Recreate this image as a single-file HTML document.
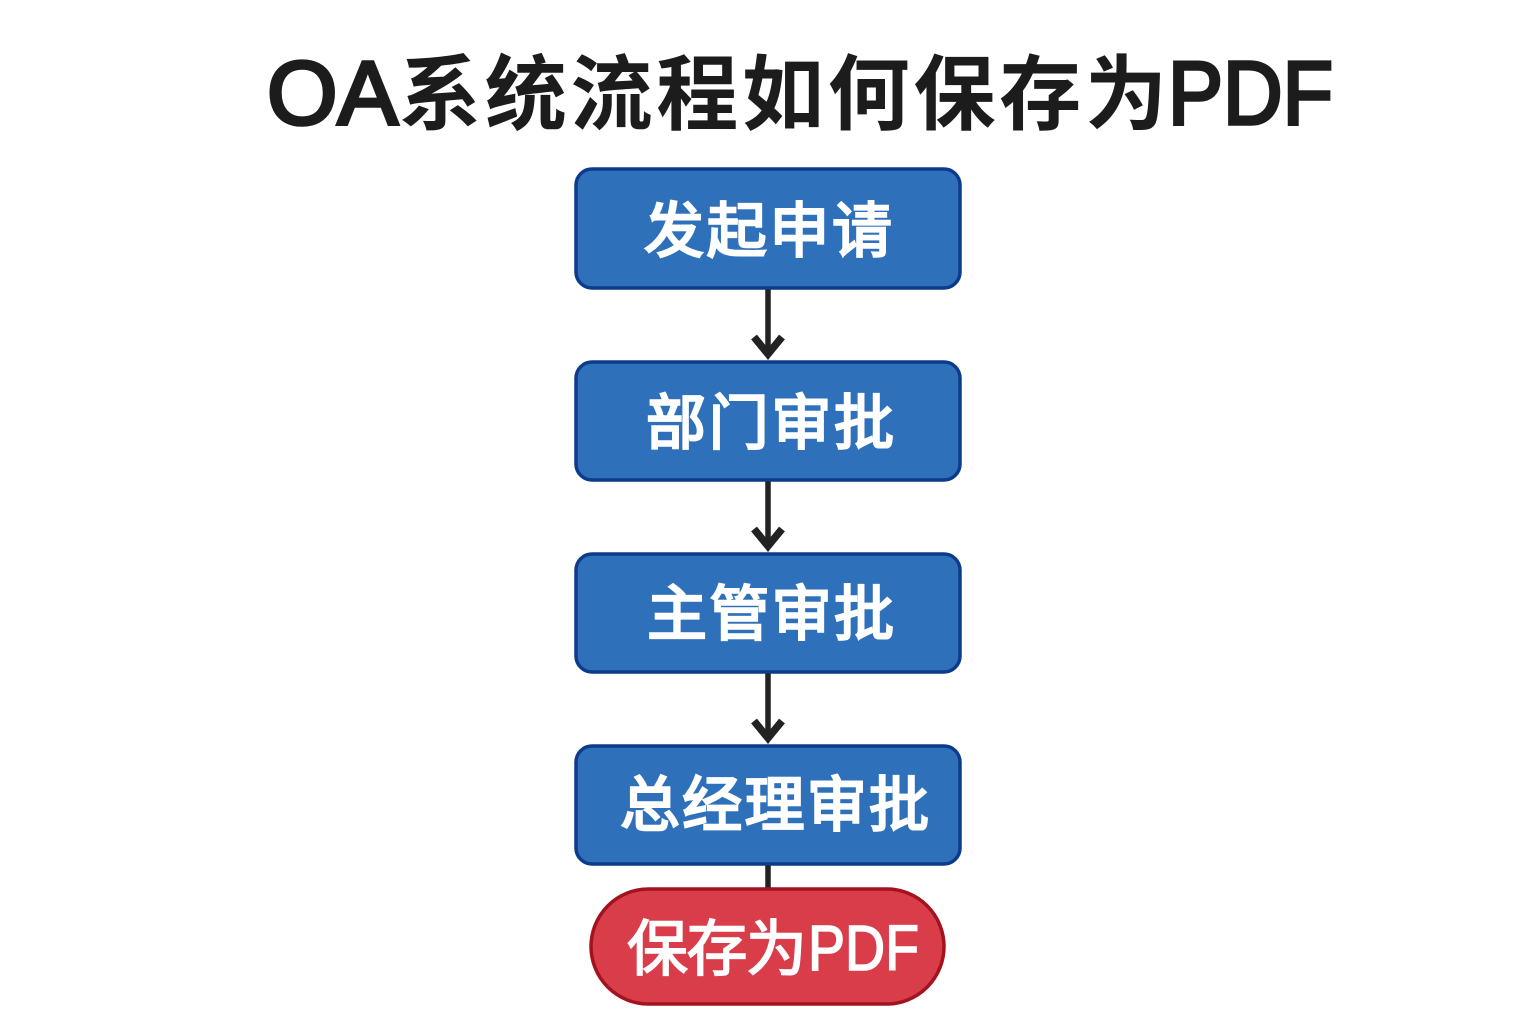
<!DOCTYPE html>
<html lang="zh-CN">
<head>
<meta charset="utf-8">
<title>OA系统流程如何保存为PDF</title>
<style>
html,body{margin:0;padding:0;background:#fff;width:1536px;height:1024px;overflow:hidden}
svg{display:block}
text{font-family:"Liberation Sans","Noto Sans CJK SC",sans-serif}
.t{font-size:82px;font-weight:700;fill:#1c1c1c}
.tl{font-size:90px;font-weight:400;fill:#1c1c1c;stroke:#1c1c1c;stroke-width:3.6px}
.n{fill:#fff;stroke:#fff;stroke-width:2.4px;font-size:60px;font-weight:400}
.p{fill:#fff;stroke:#fff;stroke-width:1.6px;font-size:61px;font-weight:400}
.pl{fill:#fff;stroke:#fff;stroke-width:1.6px;font-size:64px;font-weight:400}
.b{fill:#2f70bb;stroke:#0d3b8c;stroke-width:3.5}
.l{stroke:#222;stroke-width:5.5;fill:none}
.h{stroke:#222;stroke-width:7.5;fill:none;stroke-linejoin:miter}
</style>
</head>
<body>
<svg width="1536" height="1024" viewBox="0 0 1536 1024" xmlns="http://www.w3.org/2000/svg">
<rect width="1536" height="1024" fill="#fff"/>
<text class="tl" x="267" y="124" textLength="131" lengthAdjust="spacingAndGlyphs">OA</text>
<text class="t" x="399" y="123" textLength="768" lengthAdjust="spacing">系统流程如何保存为</text>
<text class="tl" x="1168" y="124" textLength="165" lengthAdjust="spacingAndGlyphs">PDF</text>

<line class="l" x1="768" y1="288" x2="768" y2="350"/>
<polyline class="h" points="754,337 768,354 782,337"/>
<polygon points="759,345 777,345 768,360" fill="#222"/>
<line class="l" x1="768" y1="480" x2="768" y2="542"/>
<polyline class="h" points="754,529 768,546 782,529"/>
<polygon points="759,537 777,537 768,552" fill="#222"/>
<line class="l" x1="768" y1="672" x2="768" y2="734"/>
<polyline class="h" points="754,721 768,738 782,721"/>
<polygon points="759,729 777,729 768,744" fill="#222"/>
<line class="l" x1="768" y1="864" x2="768" y2="892"/>

<rect class="b" x="576" y="169" width="384" height="119" rx="16"/>
<rect class="b" x="576" y="362" width="384" height="118" rx="16"/>
<rect class="b" x="576" y="554" width="384" height="118" rx="16"/>
<rect class="b" x="576" y="746" width="384" height="118" rx="16"/>
<rect x="591" y="889" width="353" height="115" rx="57.5" fill="#d93d4a" stroke="#a3121f" stroke-width="3.5"/>

<text class="n" x="644" y="252" textLength="248" lengthAdjust="spacing">发起申请</text>
<text class="n" x="646" y="444" textLength="248" lengthAdjust="spacing">部门审批</text>
<text class="n" x="647" y="635" textLength="247" lengthAdjust="spacing">主管审批</text>
<text class="n" x="620" y="826" textLength="309" lengthAdjust="spacing">总经理审批</text>
<text class="p" x="627" y="970" textLength="180" lengthAdjust="spacing">保存为</text>
<text class="pl" x="808" y="970" textLength="111" lengthAdjust="spacingAndGlyphs">PDF</text>
</svg>
</body>
</html>
